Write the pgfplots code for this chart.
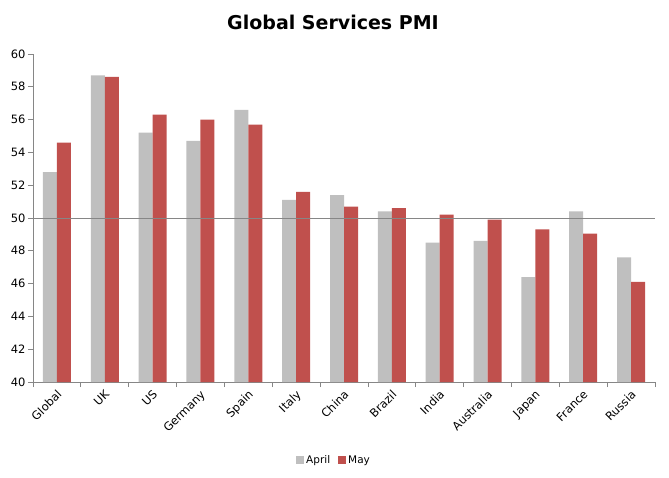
\documentclass[border=0pt]{standalone}
\usepackage{fontspec}
\setmainfont{DejaVu Sans}
\usepackage{pgfplots}
\pgfplotsset{compat=1.18}
\definecolor{aprilc}{HTML}{BFBFBF}
\definecolor{mayc}{HTML}{C0504D}
\definecolor{axc}{HTML}{868686}
\begin{document}
\begin{tikzpicture}
\useasboundingbox (-33pt,-95pt) rectangle (636pt,382pt);
\begin{axis}[
  anchor=south west, at={(0pt,0pt)},
  scale only axis, width=622pt, height=328pt,
  xmin=-0.5, xmax=12.5, ymin=40, ymax=60,
  ytick={40,42,...,60},
  xtick={0,...,12},
  xticklabels={Global,UK,US,Germany,Spain,Italy,China,Brazil,India,Australia,Japan,France,Russia},
  minor xtick={-0.5,0.5,...,12.5},
  major x tick style={draw=none},
  minor x tick style={axc, line width=0.8pt},
  minor tick length=5pt,
  major tick length=5pt,
  y tick style={axc, line width=0.8pt},
  tick align=outside,
  axis x line*=bottom, axis y line*=left,
  axis line style={axc, line width=0.8pt, -},
  /pgf/number format/assume math mode=true,
  tick label style={font=\fontsize{11.5}{13}\selectfont},
  xticklabel style={rotate=45, anchor=north east, inner sep=1pt, xshift=-1pt},
  yticklabel style={xshift=1pt},
  ybar, bar width=14pt,
  legend style={at={(axis description cs:0.484,-0.238)}, anchor=center, legend columns=2, draw=none, font=\fontsize{10.5}{12}\selectfont, /tikz/every even column/.append style={column sep=6pt}},
  legend image code/.code={\fill[#1] (0pt,-4pt) rectangle (8pt,4pt);},
  clip=false,
]
\addplot[fill=aprilc, draw=none, bar shift=-7pt] coordinates {
(0,52.8) (1,58.7) (2,55.2) (3,54.7) (4,56.6) (5,51.1) (6,51.4) (7,50.4) (8,48.5) (9,48.6) (10,46.4) (11,50.4) (12,47.6)};
\addplot[fill=mayc, draw=none, bar shift=7pt] coordinates {
(0,54.6) (1,58.6) (2,56.3) (3,56.0) (4,55.7) (5,51.6) (6,50.7) (7,50.6) (8,50.2) (9,49.9) (10,49.3) (11,49.05) (12,46.1)};
\legend{April,May}
\draw[axc, line width=0.8pt] (axis cs:-0.5,50) -- (axis cs:12.5,50);
\end{axis}
\node[font=\bfseries\fontsize{19}{22}\selectfont] at (300pt,360pt) {Global Services PMI};
\end{tikzpicture}
\end{document}
